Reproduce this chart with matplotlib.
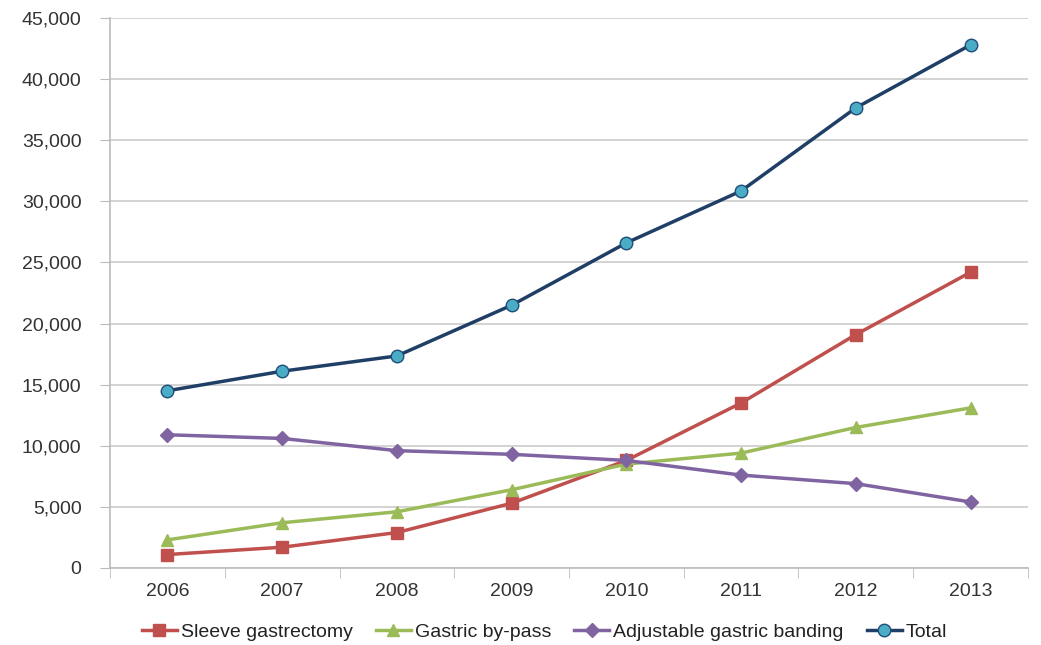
import matplotlib
matplotlib.use("Agg")
import matplotlib.pyplot as plt
from matplotlib.ticker import FuncFormatter, FixedLocator

# Data
years = ['2006', '2007', '2008', '2009', '2010', '2011', '2012', '2013']
sleeve = [1100, 1700, 2900, 5300, 8800, 13500, 19100, 24200]
bypass = [2300, 3700, 4600, 6400, 8500, 9400, 11500, 13100]
banding = [10900, 10600, 9600, 9300, 8800, 7600, 6900, 5400]
total = [14500, 16100, 17350, 21500, 26600, 30850, 37650, 42800]

plt.rcParams['font.family'] = ['Liberation Sans', 'DejaVu Sans']

fig = plt.figure(figsize=(10.41, 6.45), dpi=100)
ax = fig.add_axes([0.1057, 0.1194, 0.8818, 0.8527])

x = range(len(years))
ax.plot(x, sleeve, color='#C0504D', lw=2.5, marker='s', ms=8, mec='#C0504D',
        label='Sleeve gastrectomy')
ax.plot(x, bypass, color='#9BBB59', lw=2.5, marker='^', ms=9, mec='#9BBB59',
        label='Gastric by-pass')
ax.plot(x, banding, color='#8064A2', lw=2.5, marker='D', ms=7, mec='#8064A2',
        label='Adjustable gastric banding')
ax.plot(x, total, color='#1F3F66', lw=2.5, marker='o', ms=9, mfc='#4BACC6',
        mec='#1F4E79', mew=1, label='Total')

ax.set_xlim(-0.5, len(years) - 0.5)
ax.set_ylim(0, 45000)
ax.set_yticks(range(0, 45001, 5000))
ax.yaxis.set_major_formatter(FuncFormatter(lambda v, p: f'{int(v):,}'))
ax.set_xticks(list(x))
ax.set_xticklabels(years)
ax.xaxis.set_minor_locator(FixedLocator([i - 0.5 for i in range(len(years) + 1)]))

ax.tick_params(axis='x', which='major', length=0, pad=11, labelsize=14, labelcolor='#333333')
ax.tick_params(axis='x', which='minor', length=7, color='#BBBBBB', direction='out')
ax.tick_params(axis='y', length=7, color='#BBBBBB', pad=13.5, labelsize=14, labelcolor='#333333')

ax.grid(axis='y', color='#CCCCCC', lw=1.2)
ax.set_axisbelow(True)
for s in ['top', 'right']:
    ax.spines[s].set_visible(False)
ax.spines['left'].set_color('#BBBBBB')
ax.spines['bottom'].set_color('#BBBBBB')
ax.spines['left'].set_linewidth(1.2)
ax.spines['bottom'].set_linewidth(1.2)

fig.legend(loc='center', bbox_to_anchor=(0.523, 0.02), ncol=4, frameon=False,
           fontsize=14, handlelength=1.8, handletextpad=0.2, columnspacing=1.2,
           labelcolor='#222222')

fig.savefig('out.png', dpi=100)
